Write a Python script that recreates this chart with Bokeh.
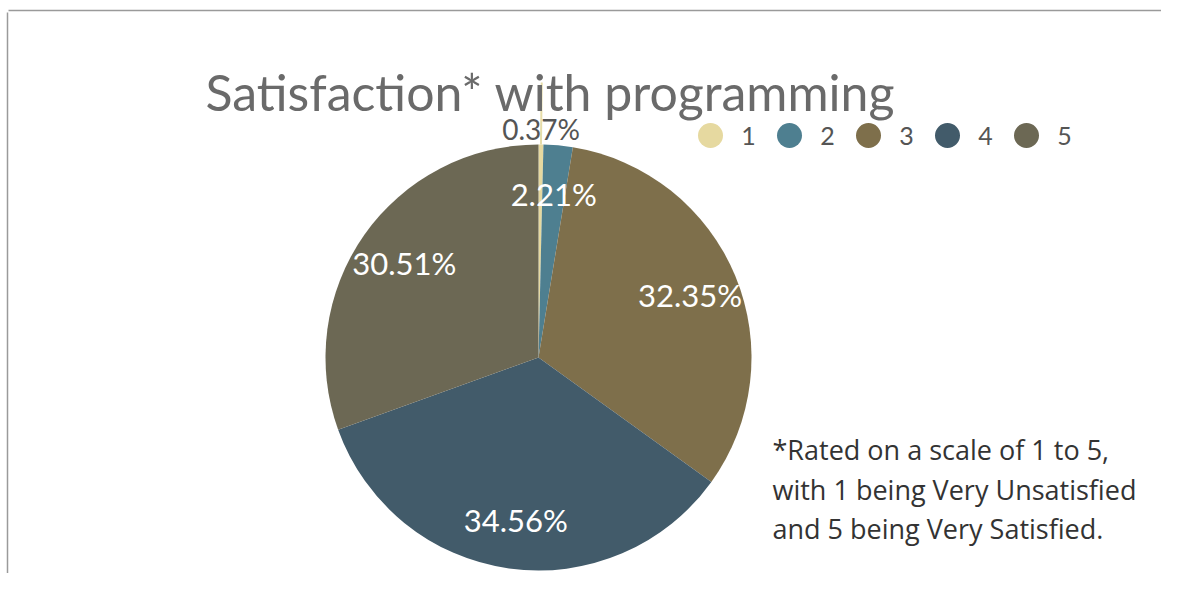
import math
from bokeh.plotting import figure
from bokeh.models import Range1d, ColumnDataSource
from bokeh.core.properties import value
from bokeh.embed import file_html
from bokeh.resources import INLINE

categories = ["1", "2", "3", "4", "5"]
percents = [0.37, 2.21, 32.35, 34.56, 30.51]
colors = ["#e6d9a0", "#4e7f90", "#7e6f4b", "#425b6a", "#6c6854"]
title_text = "Satisfaction* with programming"
footnote = ["*Rated on a scale of 1 to 5,",
            "with 1 being Very Unsatisfied",
            "and 5 being Very Satisfied."]

W, H = 1161, 573
p = figure(width=W, height=H, output_backend="svg", toolbar_location=None,
           x_range=Range1d(0, W), y_range=Range1d(0, H),
           x_axis_type=None, y_axis_type=None, min_border=0)
p.grid.visible = False
p.outline_line_color = None
p.background_fill_color = "white"
p.border_fill_color = "white"

def sc(sx, sy):
    return sx, H - sy

# frame lines (top and left)
x0, y0 = sc(8, 10)
x1, y1 = sc(1177, 10)
p.segment(x0=[x0], y0=[y0], x1=[x1], y1=[y1], line_color="#9a9a9a", line_width=1.5)
x0, y0 = sc(7, 12)
x1, y1 = sc(7, 589)
p.segment(x0=[x0], y0=[y0], x1=[x1], y1=[y1], line_color="#9a9a9a", line_width=1.5)

# pie
cx, cy = sc(538, 357)
R = 213
total = sum(percents)
starts, ends, mids = [], [], []
acc = 0.0
for v in percents:
    a0 = acc / total
    acc += v
    a1 = acc / total
    starts.append(math.pi / 2 - a1 * 2 * math.pi)
    ends.append(math.pi / 2 - a0 * 2 * math.pi)
    mids.append(math.pi / 2 - (a0 + a1) / 2 * 2 * math.pi)

src = ColumnDataSource(dict(start=starts, end=ends, color=colors))
p.wedge(x=cx, y=cy, radius=R, start_angle="start", end_angle="end",
        fill_color="color", line_color=None, source=src)

# leader for the tiny slice
m0 = mids[0]
p.segment(x0=[cx + R * math.cos(m0)], y0=[cy + R * math.sin(m0)],
          x1=[cx + (R + 62) * math.cos(m0)], y1=[cy + (R + 62) * math.sin(m0)],
          line_color="#e6dca8", line_width=2)

# labels
lr = 164
lx, ly, lt = [], [], []
for i in range(1, 5):
    lx.append(cx + lr * math.cos(mids[i]))
    ly.append(cy + lr * math.sin(mids[i]))
    lt.append(f"{percents[i]:.2f}%")
p.text(x=lx, y=ly, text=lt, text_color="white", text_font=value("Lato"),
       text_font_size="31px", text_align="center", text_baseline="middle")
p.text(x=[cx + (R + 16) * math.cos(m0)], y=[cy + (R + 16) * math.sin(m0)],
       text=[f"{percents[0]:.2f}%"], text_color="#555555", text_font=value("Lato"),
       text_font_size="28px", text_align="center", text_baseline="middle")

# title
tx, ty = sc(205, 91)
p.text(x=[tx], y=[ty], text=[title_text], text_color="#6a6a6a",
       text_font=value("Lato"), text_font_size="50px",
       text_align="left", text_baseline="alphabetic")

# legend
lgx, lgy = sc(710, 135)
step = 79
p.scatter(x=[lgx + i * step for i in range(5)], y=[lgy] * 5, size=25,
          marker="circle", fill_color=colors, line_color=None)
p.text(x=[lgx + 38 + i * step for i in range(5)], y=[lgy] * 5, text=categories,
       text_color="#555555", text_font=value("Lato"), text_font_size="25px",
       text_align="center", text_baseline="middle")

# footnote
fx, _ = sc(772, 0)
for k, line in enumerate(footnote):
    _, fy = sc(0, 449 + 39.5 * k)
    p.text(x=[fx], y=[fy], text=[line], text_color="#333333",
           text_font=value("Open Sans"), text_font_size="27px",
           text_align="left", text_baseline="alphabetic")

open("out.html", "w").write(file_html(p, INLINE))
